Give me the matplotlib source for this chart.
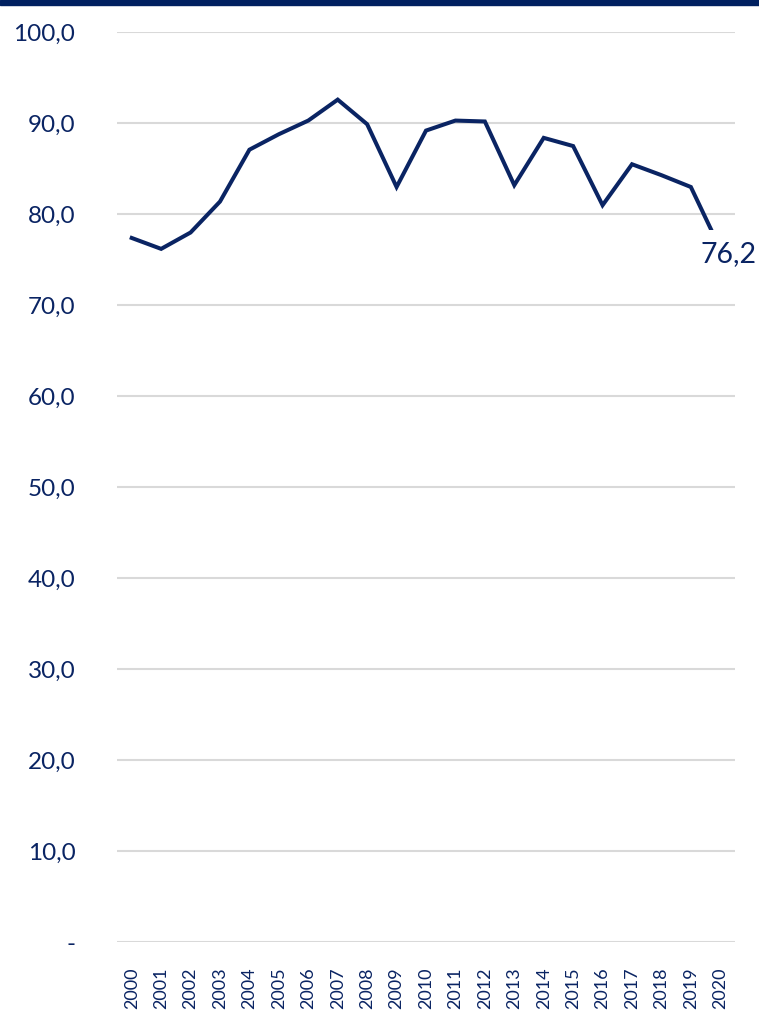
import matplotlib
matplotlib.use("Agg")
import matplotlib.pyplot as plt
from matplotlib.patches import Rectangle

years = [str(y) for y in range(2000, 2021)]
values = [77.4, 76.2, 78.0, 81.4, 87.1, 88.8, 90.3, 92.6, 89.9, 83.0,
          89.2, 90.3, 90.2, 83.2, 88.4, 87.5, 81.0, 85.5, 84.3, 83.0, 76.2]
y_ticks = [0, 10, 20, 30, 40, 50, 60, 70, 80, 90, 100]
y_labels = ["-"] + [f"{v:.1f}".replace(".", ",") for v in y_ticks[1:]]

navy = "#0A2463"
grid = "#D9D9D9"

plt.rcParams["font.family"] = ["Lato", "DejaVu Sans"]

fig = plt.figure(figsize=(7.59, 10.22), dpi=100)
fig.patches.append(Rectangle((0, 1 - 5 / 1022), 1, 5 / 1022, transform=fig.transFigure,
                             color="#002060", zorder=10))

ax = fig.add_axes([117 / 759, (1022 - 942.3) / 1022, (735 - 117) / 759, 910 / 1022])
x = list(range(len(years)))
ax.plot(x, values, color=navy, lw=2.9, solid_joinstyle="miter", zorder=3)

ax.set_xlim(-0.5, len(years) - 0.5)
ax.set_ylim(0, 100)
ax.set_yticks(y_ticks)
ax.set_yticklabels(y_labels, fontsize=17.5, color=navy)
ax.set_xticks(x)
ax.set_xticklabels(years, rotation=90, fontsize=13, color=navy)
ax.tick_params(axis="y", length=0, pad=30)
ax.tick_params(axis="x", length=0, pad=18)
ax.yaxis.grid(True, color=grid, lw=1.5)
ax.set_axisbelow(True)
for s in ax.spines.values():
    s.set_visible(False)

last = len(values) - 1
ax.text(last + 0.28, values[last] - 0.6, f"{values[last]:.1f}".replace(".", ","),
        ha="center", va="center", fontsize=20.5, color=navy, zorder=5,
        bbox=dict(facecolor="white", edgecolor="none", pad=8))

fig.savefig("out.png", dpi=100)
